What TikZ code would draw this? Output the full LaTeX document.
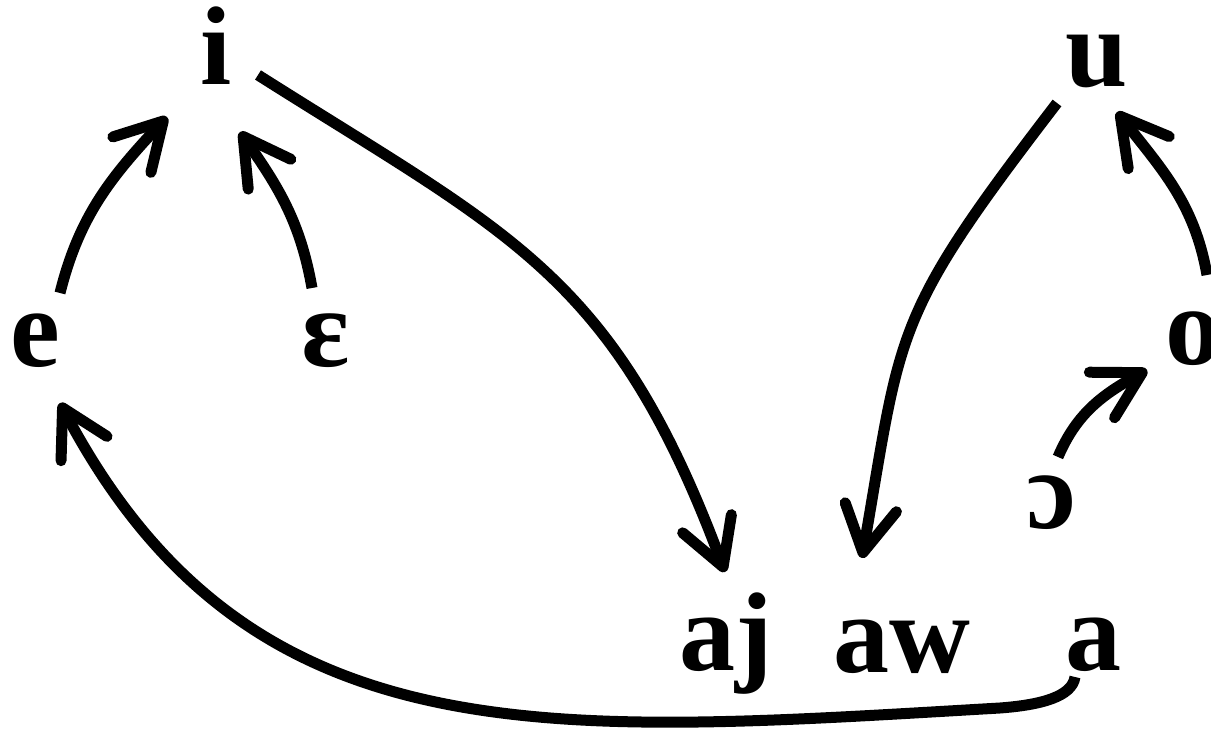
\documentclass[tikz,border=0pt]{standalone}
\usepackage{fontspec}
\setmainfont{Liberation Serif}
\usetikzlibrary{arrows.meta,calc}

\begin{document}
\begin{tikzpicture}[x=1pt,y=-1pt,v/.style={font=\bfseries\fontsize{112}{112}\selectfont,inner sep=0pt,anchor=base},arr/.style={line width=11pt,-{Straight Barb[length=46pt,width=52pt,round]}}]
\useasboundingbox (0,0) rectangle (1211,735);
% vowels
\node[v] (i) at (216,85) {i};
\node[v] (u) at (1097,87) {u};
\node[v] (e) at (35,367) {e};
\node[v] (eps) at (325,367) {ɛ};
\node[v] (o) at (1193,365) {o};
\node[v] (oo) at (1051,528) {ɔ};
\node[v] (aj) at (726,670) {aj};
\node[v] (aw) at (902,672) {aw};
\node[v] (a) at (1093,670) {a};
% shifts
\draw[arr] ($(e.base)+(25,-74)$) to[out=76,in=227] ($(i.base)+(-49,32)$);
\draw[arr] ($(eps.base)+(-13,-79)$) to[out=100,in=305] ($(i.base)+(24,47)$);
\draw[arr] ($(i.base)+(42,-10)$) .. controls +(254,161) and +(-111,-298) .. ($(aj.base)+(-1,-98)$);
\draw[arr] ($(u.base)+(-40,16)$) .. controls +(-166,216) and +(40,-230) .. ($(aw.base)+(-40,-114)$);
\draw[arr] ($(o.base)+(14,-90)$) to[out=100,in=308] ($(u.base)+(20,25)$);
\draw[arr] ($(oo.base)+(7,-71)$) to[out=67,in=209] ($(o.base)+(-46,5)$);
\draw[arr] ($(a.base)+(-18,7)$) .. controls +(-3,20) and +(40,-3) .. ($(a.base)+(-93,38)$)
  .. controls +(-450,26) and +(190,360) .. ($(e.base)+(25,36)$);
\end{tikzpicture}
\end{document}
